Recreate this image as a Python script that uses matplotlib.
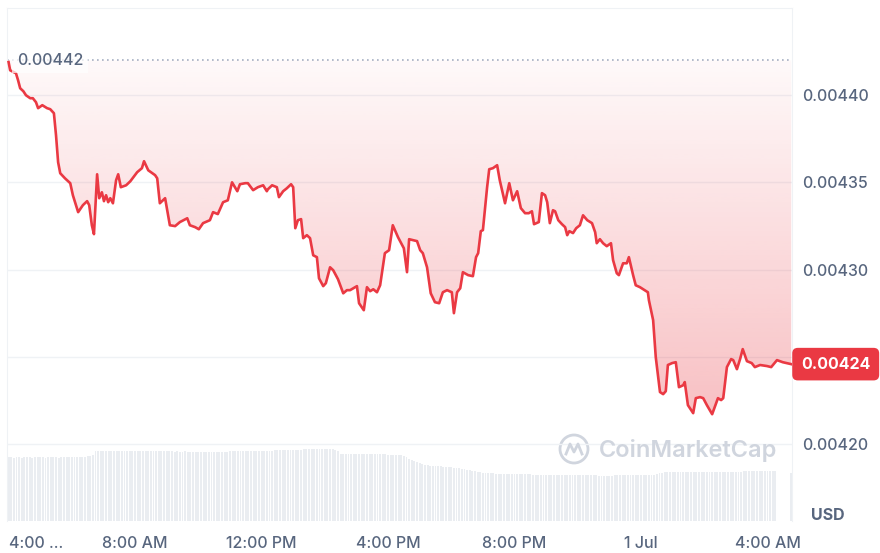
import numpy as np
import matplotlib
matplotlib.use('Agg')
import matplotlib.pyplot as plt
from matplotlib.patches import Circle
from matplotlib.lines import Line2D
from matplotlib.transforms import IdentityTransform

plt.rcParams['font.family'] = ['Inter', 'DejaVu Sans']

# minutes after 04:00 (30 Jun) and price in USD
minutes = [
    0, 3, 14, 18, 22, 28, 33, 41, 46, 52,
    56, 64, 73, 79, 86, 90, 94, 98, 107, 117,
    122, 132, 141, 149, 153, 158, 162, 168, 172, 177,
    181, 185, 189, 193, 198, 204, 208, 213, 223, 231,
    244, 253, 257, 265, 278, 282, 287, 297, 306, 316,
    325, 339, 344, 354, 361, 369, 382, 388, 397, 407,
    416, 424, 434, 439, 449, 454, 464, 473, 483, 490,
    492, 500, 509, 513, 521, 528, 536, 540, 544, 549,
    555, 559, 566, 572, 578, 585, 589, 597, 602, 610,
    616, 625, 635, 642, 648, 661, 665, 674, 680, 686,
    692, 699, 705, 714, 722, 729, 739, 747, 750, 756,
    760, 775, 781, 786, 794, 801, 809, 817, 824, 832,
    841, 845, 851, 857, 862, 872, 881, 887, 891, 896,
    900, 908, 912, 919, 927, 932, 942, 950, 957, 965,
    972, 980, 987, 993, 997, 1006, 1012, 1018, 1022, 1027,
    1033, 1037, 1043, 1050, 1056, 1060, 1064, 1071, 1077, 1084,
    1090, 1098, 1107, 1113, 1116, 1122, 1128, 1135, 1143, 1147,
    1154, 1158, 1166, 1173, 1177, 1185, 1190, 1198, 1207, 1213,
    1215, 1223, 1228, 1236, 1242, 1247, 1251, 1259, 1266, 1272,
    1280, 1283, 1289, 1299, 1304, 1312, 1318, 1325, 1335, 1340,
    1346, 1352, 1356, 1363, 1371, 1375, 1382, 1388, 1393, 1401,
    1410, 1416, 1426, 1439, 1447, 1458, 1469, 1485,
]
price = [
    0.0044190, 0.0044143, 0.0044126, 0.0044086, 0.0044040, 0.0044023, 0.0044000, 0.0043983, 0.0043983, 0.0043960,
    0.0043926, 0.0043943, 0.0043926, 0.0043920, 0.0043897, 0.0043771, 0.0043616, 0.0043553, 0.0043524, 0.0043496,
    0.0043427, 0.0043330, 0.0043370, 0.0043393, 0.0043370, 0.0043255, 0.0043204, 0.0043547, 0.0043410, 0.0043444,
    0.0043393, 0.0043427, 0.0043387, 0.0043410, 0.0043381, 0.0043513, 0.0043547, 0.0043473, 0.0043484, 0.0043507,
    0.0043559, 0.0043582, 0.0043622, 0.0043570, 0.0043542, 0.0043524, 0.0043381, 0.0043410, 0.0043255, 0.0043250,
    0.0043273, 0.0043295, 0.0043255, 0.0043244, 0.0043232, 0.0043267, 0.0043284, 0.0043330, 0.0043319, 0.0043387,
    0.0043398, 0.0043501, 0.0043450, 0.0043490, 0.0043496, 0.0043496, 0.0043456, 0.0043473, 0.0043484, 0.0043450,
    0.0043461, 0.0043484, 0.0043473, 0.0043416, 0.0043450, 0.0043467, 0.0043490, 0.0043473, 0.0043238, 0.0043284,
    0.0043290, 0.0043181, 0.0043198, 0.0043181, 0.0043083, 0.0043072, 0.0042951, 0.0042906, 0.0042923, 0.0043014,
    0.0042997, 0.0042946, 0.0042865, 0.0042883, 0.0042883, 0.0042906, 0.0042808, 0.0042768, 0.0042900, 0.0042877,
    0.0042888, 0.0042871, 0.0042911, 0.0043095, 0.0043112, 0.0043255, 0.0043186, 0.0043141, 0.0043123, 0.0042986,
    0.0043175, 0.0043164, 0.0043112, 0.0043095, 0.0043014, 0.0042865, 0.0042814, 0.0042808, 0.0042871, 0.0042883,
    0.0042871, 0.0042751, 0.0042871, 0.0042894, 0.0042986, 0.0042969, 0.0042963, 0.0043072, 0.0043095, 0.0043221,
    0.0043227, 0.0043473, 0.0043576, 0.0043582, 0.0043599, 0.0043513, 0.0043381, 0.0043496, 0.0043398, 0.0043450,
    0.0043353, 0.0043324, 0.0043324, 0.0043335, 0.0043261, 0.0043273, 0.0043439, 0.0043427, 0.0043387, 0.0043267,
    0.0043341, 0.0043335, 0.0043284, 0.0043261, 0.0043244, 0.0043198, 0.0043221, 0.0043210, 0.0043238, 0.0043255,
    0.0043312, 0.0043284, 0.0043267, 0.0043215, 0.0043152, 0.0043175, 0.0043152, 0.0043135, 0.0043152, 0.0043055,
    0.0042980, 0.0042969, 0.0043037, 0.0043037, 0.0043072, 0.0042969, 0.0042911, 0.0042900, 0.0042883, 0.0042871,
    0.0042825, 0.0042711, 0.0042499, 0.0042299, 0.0042287, 0.0042304, 0.0042454, 0.0042465, 0.0042470, 0.0042327,
    0.0042338, 0.0042356, 0.0042224, 0.0042178, 0.0042264, 0.0042270, 0.0042264, 0.0042224, 0.0042172, 0.0042213,
    0.0042264, 0.0042253, 0.0042264, 0.0042442, 0.0042488, 0.0042482, 0.0042430, 0.0042488, 0.0042545, 0.0042476,
    0.0042465, 0.0042442, 0.0042454, 0.0042448, 0.0042442, 0.0042482, 0.0042470, 0.0042459,
]
open_price = 0.00442

# volume, 5-minute bars, one row per hour
volume = [
    636, 638, 635, 637, 636, 634, 637, 638, 636, 635, 637, 636,
    636, 637, 635, 636, 638, 637, 636, 635, 637, 636, 638, 637,
    637, 636, 638, 637, 640, 642, 648, 652, 660, 700, 702, 703,
    702, 703, 701, 702, 703, 700, 702, 703, 702, 701, 703, 702,
    701, 700, 702, 699, 700, 701, 699, 700, 698, 699, 700, 699,
    697, 696, 697, 695, 696, 694, 695, 696, 694, 695, 694, 693,
    693, 694, 692, 693, 694, 692, 693, 695, 694, 693, 694, 695,
    696, 697, 698, 697, 698, 699, 700, 699, 700, 701, 700, 702,
    702, 703, 704, 705, 704, 706, 707, 706, 708, 709, 710, 711,
    712, 713, 714, 715, 716, 717, 716, 718, 719, 720, 721, 720,
    719, 718, 717, 716, 712, 705, 672, 671, 670, 671, 670, 669,
    670, 669, 670, 668, 669, 670, 668, 669, 667, 668, 667, 666,
    665, 664, 663, 662, 662, 660, 655, 640, 625, 610, 600, 590,
    580, 570, 562, 558, 555, 552, 550, 548, 546, 544, 542, 540,
    538, 535, 532, 528, 524, 520, 515, 510, 505, 500, 495, 490,
    485, 482, 480, 478, 476, 475, 474, 473, 472, 471, 470, 470,
    469, 468, 468, 467, 467, 466, 466, 465, 465, 464, 464, 463,
    463, 462, 462, 461, 461, 460, 460, 460, 459, 459, 459, 458,
    458, 458, 457, 457, 457, 456, 456, 456, 455, 455, 455, 455,
    455, 455, 456, 456, 456, 457, 457, 457, 458, 458, 458, 459,
    459, 460, 460, 461, 461, 462, 470, 478, 484, 486, 487, 488,
    488, 489, 489, 490, 490, 490, 491, 491, 491, 492, 492, 492,
    492, 493, 493, 493, 493, 494, 494, 494, 494, 494, 495, 495,
    495, 495, 495, 496, 496, 496, 496, 496, 497, 497, 497, 497,
    497, 497, 497, 497, 0, 0, 0, 0, 0, 480,
]
vol_minutes = [5 * i for i in range(len(volume))]

xticks = [0, 240, 480, 720, 960, 1200, 1440]
xlabels = ['4:00 ...', '8:00 AM', '12:00 PM', '4:00 PM', '8:00 PM', '1 Jul', '4:00 AM']
yticks = [0.00420, 0.00425, 0.00430, 0.00435, 0.00440]
ylabels = ['0.00420', '', '0.00430', '0.00435', '0.00440']

red = '#ea3943'
grey = '#58667e'
light = '#eff2f5'
fs = 11.5

fig = plt.figure(figsize=(8.8, 5.53), dpi=100)
rect = [7 / 880, 32 / 553, 785 / 880, 513 / 553]

axv = fig.add_axes(rect, zorder=0)
axv.bar(vol_minutes, volume, width=3.6, color='#eaedf1', linewidth=0)
axv.set_xlim(-3, 1486.5)
axv.set_ylim(0, 5130)
axv.axis('off')

ax = fig.add_axes(rect, zorder=1)
ax.patch.set_alpha(0)

# gradient fill between the line and the opening price
poly = ax.fill_between(minutes, price, open_price, color='none', linewidth=0)
grad = np.zeros((256, 1, 4))
grad[..., 0] = 234 / 255
grad[..., 1] = 57 / 255
grad[..., 2] = 67 / 255
grad[:, 0, 3] = np.linspace(0.32, 0.03, 256)
im = ax.imshow(grad, extent=[minutes[0], minutes[-1], 0.004215, open_price],
               origin='lower', aspect='auto', zorder=2, interpolation='bilinear')
im.set_clip_path(poly.get_paths()[0], ax.transData)

ax.plot(minutes, price, color=red, lw=1.9, zorder=3, solid_joinstyle='round')
ax.axhline(open_price, color='#a6b0c3', lw=1.2, ls=(0, (1, 2)), zorder=1)

ax.set_xlim(-3, 1486.5)
ax.set_ylim(0.004156, 0.00445)

ax.set_xticks(xticks, xlabels)
ax.get_xticklabels()[0].set_ha('left')
ax.tick_params(axis='x', length=0, pad=11, labelsize=fs, labelcolor=grey)

ax.yaxis.tick_right()
ax.set_yticks(yticks, ylabels)
ax.tick_params(axis='y', length=0, pad=7, labelsize=fs, labelcolor=grey)
for lbl in ax.get_xticklabels() + ax.get_yticklabels():
    lbl.set_fontweight('medium')
ax.grid(axis='y', color=light, lw=1)
ax.set_axisbelow(True)

for side in ['top', 'left', 'right']:
    ax.spines[side].set_color(light)
ax.spines['bottom'].set_visible(False)

ax.annotate('0.00442', xy=(0.0127, open_price), xycoords=('axes fraction', 'data'),
            ha='left', va='center', fontsize=fs, fontweight='medium', color=grey, zorder=5,
            bbox=dict(boxstyle='square,pad=0.3', fc='white', ec='none', alpha=0.7))

ax.annotate('0.00424', xy=(1, price[-1]), xycoords=('axes fraction', 'data'),
            xytext=(6.5, 0), textcoords='offset points', ha='left', va='center',
            fontsize=fs, fontweight='bold', color='white', annotation_clip=False, zorder=6,
            bbox=dict(boxstyle='round,pad=0.55,rounding_size=0.35', fc=red, ec='none'))

fig.text(828 / 880, 1 - 516 / 553, 'USD', ha='center', va='center',
         fontsize=fs, fontweight='bold', color=grey)

# watermark
wm = '#d0d5de'
fig.text(688 / 880, 1 - 450 / 553, 'CoinMarketCap', ha='center', va='center',
         fontsize=17, fontweight='semibold', color=wm)
fig.add_artist(Circle((574, 553 - 449), 14, transform=IdentityTransform(),
                      fill=False, ec=wm, lw=2))
fig.add_artist(Line2D([566, 570, 574, 578, 582], [99, 109, 101, 109, 99],
                      transform=IdentityTransform(), color=wm, lw=2))

fig.savefig('out.png', dpi=100)
